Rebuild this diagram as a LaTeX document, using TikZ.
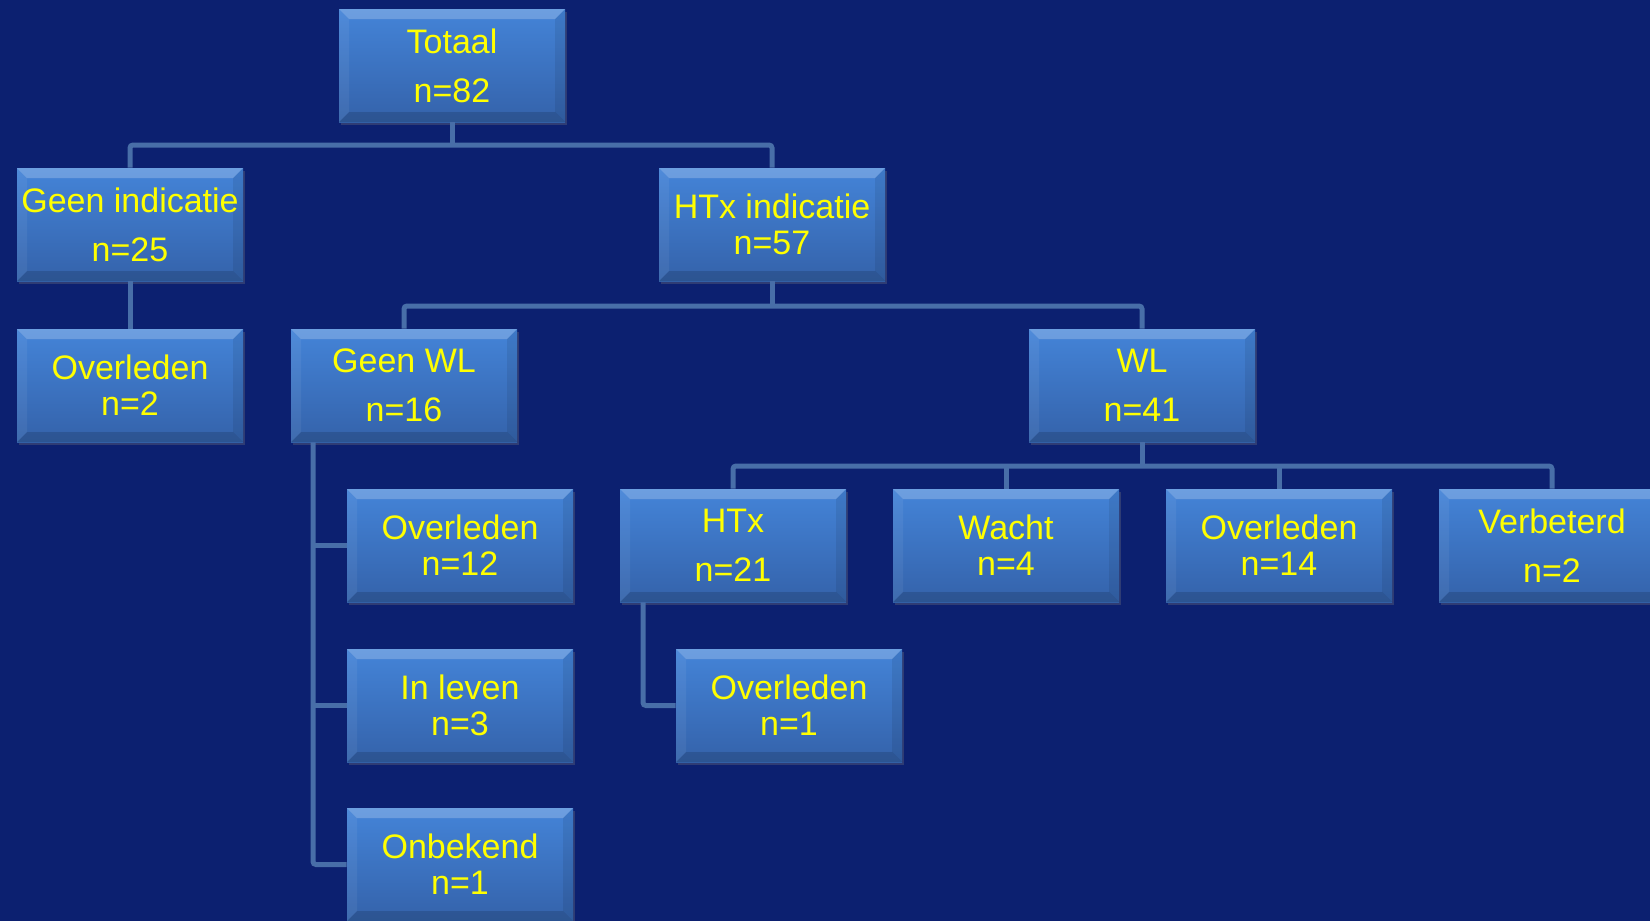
\documentclass[tikz,border=0pt]{standalone}
\usepackage{fontspec}
\setmainfont{Liberation Sans}
\usepackage{tikz}
\usetikzlibrary{shadows}
\definecolor{bgblue}{RGB}{12,32,112}
\definecolor{boxtop}{RGB}{68,132,216}
\definecolor{boxbot}{RGB}{52,98,170}
\definecolor{linkblue}{RGB}{72,110,168}
\definecolor{txtyellow}{RGB}{255,255,0}
\tikzstyle{box}=[rectangle, minimum width=113pt, minimum height=56.5pt, inner sep=0pt,
  top color=boxtop, bottom color=boxbot, text=txtyellow, align=center,
  font=\fontsize{17}{18}\selectfont,
  drop shadow={opacity=0.3, shadow xshift=0.8pt, shadow yshift=-1.5pt},
  path picture={
    \fill[white, opacity=0.22] (path picture bounding box.north west) -- (path picture bounding box.north east)
      -- ([shift={(-5pt,-5pt)}]path picture bounding box.north east) -- ([shift={(5pt,-5pt)}]path picture bounding box.north west) -- cycle;
    \fill[black, opacity=0.14] (path picture bounding box.south west) -- (path picture bounding box.south east)
      -- ([shift={(-5pt,5pt)}]path picture bounding box.south east) -- ([shift={(5pt,5pt)}]path picture bounding box.south west) -- cycle;
    \fill[white, opacity=0.06] (path picture bounding box.north west) -- ([shift={(5pt,-5pt)}]path picture bounding box.north west)
      -- ([shift={(5pt,5pt)}]path picture bounding box.south west) -- (path picture bounding box.south west) -- cycle;
    \fill[black, opacity=0.08] (path picture bounding box.north east) -- ([shift={(-5pt,-5pt)}]path picture bounding box.north east)
      -- ([shift={(-5pt,5pt)}]path picture bounding box.south east) -- (path picture bounding box.south east) -- cycle;
  }]
\tikzstyle{wide}=[font=\fontsize{17}{24.5}\selectfont]
\tikzstyle{link}=[draw=linkblue, line width=2.5pt, rounded corners=1.5pt]

\begin{document}
\begin{tikzpicture}[x=0.5pt,y=-0.5pt]
\fill[bgblue] (0,0) rectangle (1650,921);
\useasboundingbox (0,0) rectangle (1650,921);
% bus lines and rails
\coordinate (bus1) at (0,145);
\coordinate (bus2) at (0,306);
\coordinate (bus3) at (0,466);
\coordinate (gwlrail) at (313,0);
\coordinate (htxrail) at (643,0);

\node[box,wide] (tot)  at (452,65.5)  {Totaal\\n=82};
\node[box,wide] (gi)   at (130,224.5) {Geen indicatie\\n=25};
\node[box]      (htxi) at (772,224.5) {HTx indicatie\\n=57};
\node[box]      (gio)  at (130,385.5) {Overleden\\n=2};
\node[box,wide] (gwl)  at (404,385.5) {Geen WL\\n=16};
\node[box,wide] (wl)   at (1142,385.5) {WL\\n=41};
\node[box,wide] (htx)  at (733,545.5) {HTx\\n=21};
\node[box]      (wacht) at (1006,545.5) {Wacht\\n=4};
\node[box]      (wlo)  at (1279,545.5) {Overleden\\n=14};
\node[box,wide] (verb) at (1552,545.5) {Verbeterd\\n=2};
\foreach \nm/\y/\txt in {gwlo/545.5/{Overleden\\n=12}, leven/705.5/{In leven\\n=3}, onb/864.5/{Onbekend\\n=1}} {
 \node[box] (\nm) at (460,\y) {\txt};
}
\node[box] (htxo) at (789,705.5) {Overleden\\n=1};

\draw[link] (tot.south) -- (tot.south |- bus1);
\draw[link] (gi.north) -- (gi.north |- bus1) -- (htxi.north |- bus1) -- (htxi.north);
\draw[link] (gi.south) -- (gio.north);
\draw[link] (htxi.south) -- (htxi.south |- bus2);
\draw[link] (gwl.north) -- (gwl.north |- bus2) -- (wl.north |- bus2) -- (wl.north);
\draw[link] (wl.south) -- (wl.south |- bus3);
\draw[link] (htx.north) -- (htx.north |- bus3) -- (verb.north |- bus3) -- (verb.north);
\foreach \nm in {wacht,wlo} {
 \draw[link] (\nm.north) -- (\nm.north |- bus3);
}
\draw[link] (gwl.south -| gwlrail) -- (onb.west -| gwlrail) -- (onb.west);
\foreach \nm in {gwlo,leven} {
 \draw[link] (\nm.west -| gwlrail) -- (\nm.west);
}
\draw[link] (htx.south -| htxrail) -- (htxo.west -| htxrail) -- (htxo.west);
\end{tikzpicture}
\end{document}
